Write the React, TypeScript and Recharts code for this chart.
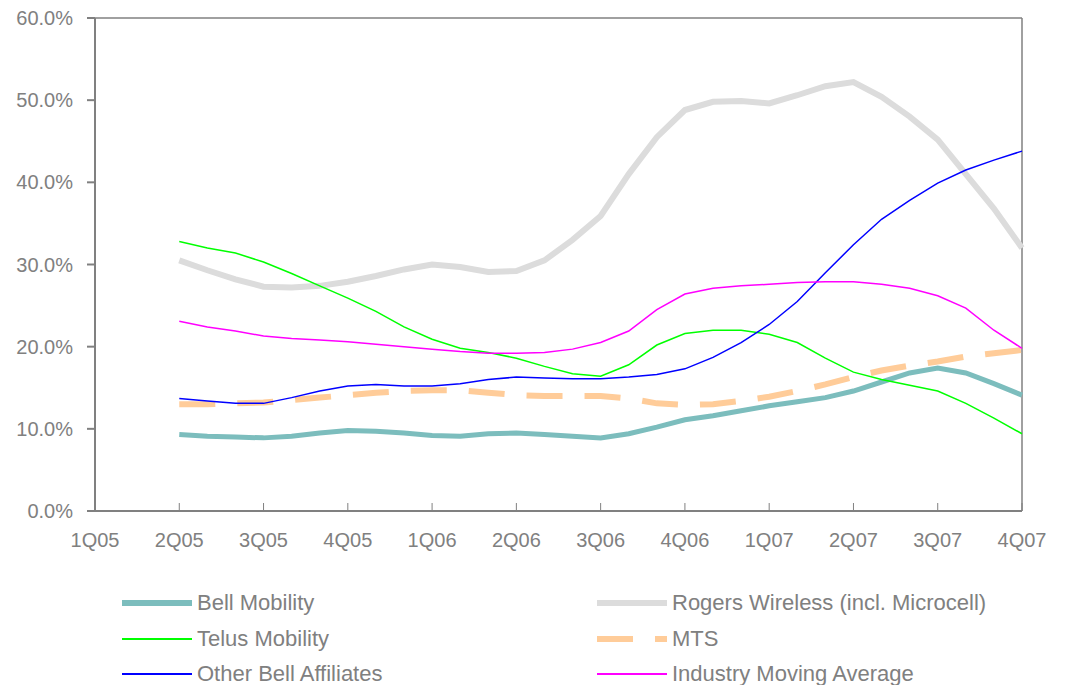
import React from 'react';
import { LineChart, Line, XAxis, YAxis, ReferenceLine } from 'recharts';

const quarters = ['1Q05', '2Q05', '3Q05', '4Q05', '1Q06', '2Q06', '3Q06', '4Q06', '1Q07', '2Q07', '3Q07', '4Q07'];
const firstMonth = 3; // series start at 2Q05 (monthly points)
const yTicks = [0, 10, 20, 30, 40, 50, 60];

const bellMobility = [9.3, 9.1, 9.0, 8.9, 9.1, 9.5, 9.8, 9.7, 9.5, 9.2, 9.1, 9.4, 9.5, 9.3, 9.1, 8.9, 9.4, 10.2, 11.1, 11.6, 12.2, 12.8, 13.3, 13.8, 14.6, 15.7, 16.8, 17.4, 16.8, 15.5, 14.1];
const rogersWireless = [30.5, 29.3, 28.2, 27.3, 27.2, 27.4, 27.9, 28.6, 29.4, 30.0, 29.7, 29.1, 29.2, 30.5, 33.0, 35.9, 41.0, 45.5, 48.8, 49.8, 49.9, 49.6, 50.6, 51.7, 52.2, 50.4, 48.0, 45.2, 41.0, 36.8, 32.0];
const telusMobility = [32.8, 32.0, 31.4, 30.3, 28.9, 27.4, 25.9, 24.3, 22.4, 20.9, 19.8, 19.3, 18.6, 17.6, 16.7, 16.4, 17.8, 20.2, 21.6, 22.0, 22.0, 21.5, 20.5, 18.6, 16.9, 16.0, 15.3, 14.6, 13.1, 11.3, 9.4];
const mts = [13.0, 13.0, 13.1, 13.2, 13.5, 13.8, 14.1, 14.4, 14.6, 14.7, 14.7, 14.4, 14.1, 14.0, 14.0, 14.0, 13.7, 13.1, 12.9, 13.0, 13.4, 13.9, 14.6, 15.4, 16.3, 17.1, 17.7, 18.2, 18.8, 19.2, 19.6];
const otherBell = [13.7, 13.4, 13.1, 13.1, 13.8, 14.6, 15.2, 15.4, 15.2, 15.2, 15.5, 16.0, 16.3, 16.2, 16.1, 16.1, 16.3, 16.6, 17.3, 18.7, 20.5, 22.7, 25.5, 29.0, 32.4, 35.5, 37.8, 39.9, 41.5, 42.7, 43.8];
const industryAvg = [23.1, 22.4, 21.9, 21.3, 21.0, 20.8, 20.6, 20.3, 20.0, 19.7, 19.4, 19.2, 19.2, 19.3, 19.7, 20.5, 21.9, 24.5, 26.4, 27.1, 27.4, 27.6, 27.8, 27.9, 27.9, 27.6, 27.1, 26.2, 24.7, 22.0, 19.8];

const data = bellMobility.map((_, i) => ({
  m: firstMonth + i,
  bell: bellMobility[i],
  rogers: rogersWireless[i],
  telus: telusMobility[i],
  mts: mts[i],
  other: otherBell[i],
  industry: industryAvg[i],
}));

const GRAY = '#808080';
const FONT = '"Liberation Sans", Arial, sans-serif';

type Item = { name: string; color: string; width: number; dash?: string };
const legendLeft: Item[] = [
  { name: 'Bell Mobility', color: '#7CBDBD', width: 6 },
  { name: 'Telus Mobility', color: '#00FF00', width: 2 },
  { name: 'Other Bell Affiliates', color: '#0000FF', width: 2 },
];
const legendRight: Item[] = [
  { name: 'Rogers Wireless (incl. Microcell)', color: '#DCDCDC', width: 6 },
  { name: 'MTS', color: '#FFCC99', width: 6, dash: '36 22' },
  { name: 'Industry Moving Average', color: '#FF00FF', width: 2 },
];
const rowCenters = [595, 631, 666];

function LegendItem({ item, left, top }: { item: Item; left: number; top: number }) {
  return (
    <div style={{ position: 'absolute', left, top: top - 15, height: 30, display: 'flex', alignItems: 'center', whiteSpace: 'nowrap' }}>
      <svg width={70} height={12} style={{ display: 'block' }}>
        <line x1={0} y1={6} x2={70} y2={6} stroke={item.color} strokeWidth={item.width} strokeDasharray={item.dash} />
      </svg>
      <span style={{ marginLeft: 5, fontFamily: FONT, fontSize: 22, color: GRAY, lineHeight: '30px' }}>{item.name}</span>
    </div>
  );
}

export default function App() {
  return (
    <div style={{ position: 'relative', width: 1050, height: 677, overflow: 'hidden' }}>
      <div style={{ position: 'absolute', left: 0, top: 0 }}>
        <LineChart width={1050} height={545} data={data} margin={{ top: 10, right: 36, bottom: 0, left: 0 }}>
          <XAxis
            dataKey="m"
            type="number"
            domain={[0, 33]}
            ticks={quarters.map((_, i) => i * 3)}
            tickFormatter={(v: number) => quarters[Math.round(v / 3)]}
            interval={0}
            height={42}
            tickSize={-8}
            tickMargin={30}
            axisLine={{ stroke: GRAY, strokeWidth: 2 }}
            tickLine={{ stroke: GRAY, strokeWidth: 1 }}
            tick={{ fill: GRAY, fontSize: 20, fontFamily: FONT }}
          />
          <YAxis
            type="number"
            domain={[0, 60]}
            ticks={yTicks}
            tickFormatter={(v: number) => v.toFixed(1) + '%'}
            width={87}
            tickSize={8}
            tickMargin={14}
            interval={0}
            axisLine={{ stroke: GRAY, strokeWidth: 2 }}
            tickLine={{ stroke: GRAY, strokeWidth: 2 }}
            tick={{ fill: GRAY, fontSize: 20, fontFamily: FONT }}
          />
          <ReferenceLine y={60} stroke={GRAY} strokeWidth={1.5} />
          <ReferenceLine x={33} stroke={GRAY} strokeWidth={1.5} />
          <Line dataKey="rogers" type="linear" stroke="#DCDCDC" strokeWidth={6} dot={false} isAnimationActive={false} />
          <Line dataKey="bell" type="linear" stroke="#7CBDBD" strokeWidth={5} dot={false} isAnimationActive={false} />
          <Line dataKey="mts" type="linear" stroke="#FFCC99" strokeWidth={6} strokeDasharray="36 22" dot={false} isAnimationActive={false} />
          <Line dataKey="telus" type="linear" stroke="#00FF00" strokeWidth={1.5} dot={false} isAnimationActive={false} />
          <Line dataKey="other" type="linear" stroke="#0000FF" strokeWidth={1.5} dot={false} isAnimationActive={false} />
          <Line dataKey="industry" type="linear" stroke="#FF00FF" strokeWidth={1.5} dot={false} isAnimationActive={false} />
        </LineChart>
      </div>
      {legendLeft.map((it, i) => (
        <LegendItem key={it.name} item={it} left={114} top={rowCenters[i]} />
      ))}
      {legendRight.map((it, i) => (
        <LegendItem key={it.name} item={it} left={589} top={rowCenters[i]} />
      ))}
    </div>
  );
}
